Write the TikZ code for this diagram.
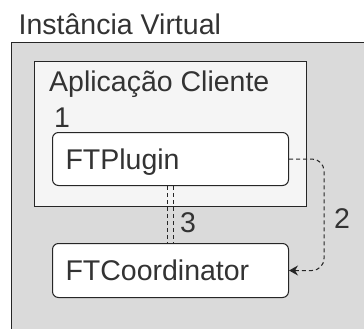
\documentclass[tikz,border=0pt]{standalone}
\usepackage{fontspec}
\setmainfont{Liberation Sans}
\usepackage{xcolor}
\usepackage{tikz}
\usetikzlibrary{arrows.meta}

\definecolor{vmgray}{HTML}{DADADA}
\definecolor{appgray}{HTML}{F5F5F5}
\definecolor{linegray}{HTML}{262626}
\definecolor{textgray}{HTML}{333333}

\begin{document}
\begin{tikzpicture}[x=1pt, y=-1pt, font=\fontsize{28.5}{34}\selectfont, text=textgray]
        % Define styles
        \tikzset{
            container/.style={rectangle, draw=linegray, line width=1pt, anchor=north west, inner sep=0pt},
            component/.style={rectangle, rounded corners=6pt, draw=linegray, line width=1pt, fill=white, anchor=north west, text width=210pt, align=left, inner xsep=13pt, inner ysep=0pt, text height=20pt, text depth=0pt},
            label/.style={anchor=base west, inner sep=0pt},
            arrow/.style={draw=linegray, line width=1pt, dash pattern=on 4pt off 3pt}
        }
        \clip (0,0) rectangle (364,329);

        % Containers
        \node[container, fill=vmgray, minimum width=361pt, minimum height=300pt] (vm_box) at (11,42) {};
        \node[label] (vm_title) at (18.5,35) {Instância Virtual};
        \node[container, fill=appgray, minimum width=272pt, minimum height=145pt] (app_box) at (34,61) {};
        \node[label] (app_title) at (49,92) {Aplicação Cliente};

        % Nodes
        \node[label] (num_1) at (54,127) {1};
        \node[component, minimum height=53pt] (plugin_node) at (52,132) {FTPlugin};
        \node[component, minimum height=54pt] (coord_node) at (52,243) {FTCoordinator};

        % Arrows
        \draw[arrow] ([xshift=-3pt]plugin_node.south) -- ([xshift=-3pt]coord_node.north);
        \draw[arrow] ([xshift=3pt]plugin_node.south) -- ([xshift=3pt]coord_node.north);
        \node[label] (num_3) at (180,232) {3};
        \draw[arrow, -{Stealth[length=9pt, width=10pt, inset=3pt]}, rounded corners=12pt] (plugin_node.east) -- ++(35,0) |- (coord_node.east);
        \node[label] (num_2) at (334,228) {2};
\end{tikzpicture}
\end{document}
